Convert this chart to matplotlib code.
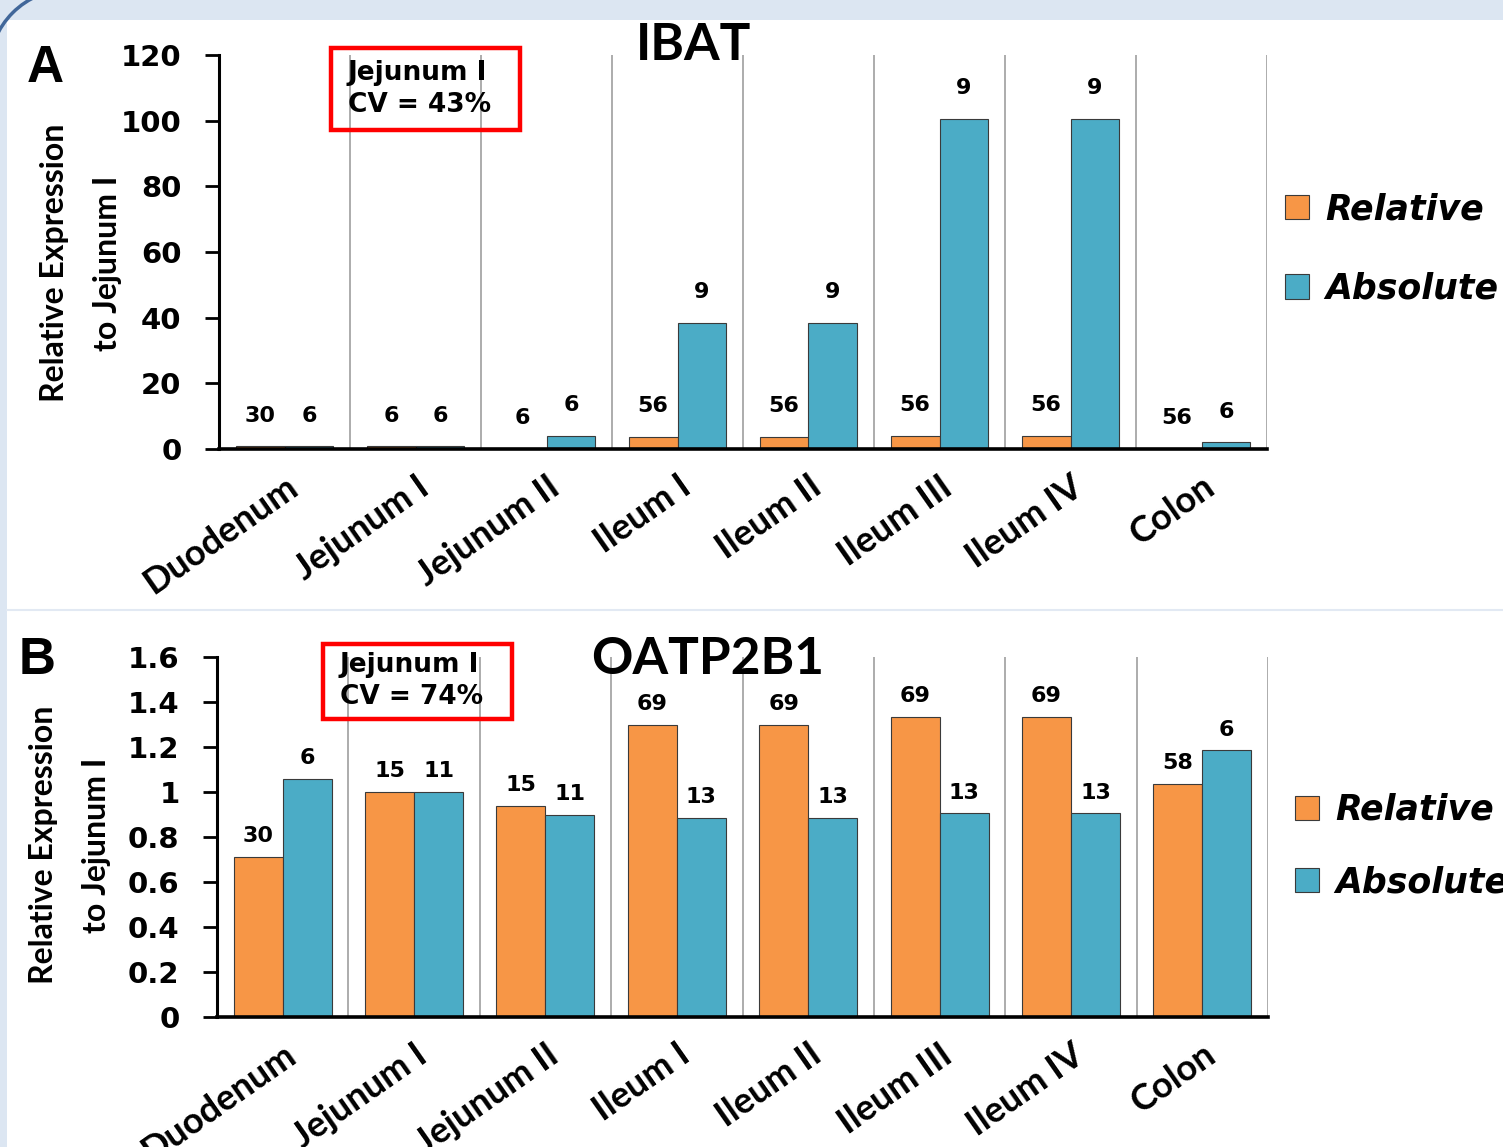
import matplotlib
matplotlib.use("Agg")
import matplotlib.pyplot as plt
from matplotlib import patches
import numpy as np

# ---- data ----
segments = ["Duodenum", "Jejunum I", "Jejunum II", "Ileum I",
            "Ileum II", "Ileum III", "Ileum IV", "Colon"]

ibat_relative = [0.8, 0.8, 0.0, 3.7, 3.7, 4.0, 4.0, 0.0]
ibat_absolute = [0.8, 0.8, 4.0, 38.4, 38.4, 100.5, 100.5, 2.1]
ibat_n_relative = [30, 6, 6, 56, 56, 56, 56, 56]
ibat_n_absolute = [6, 6, 6, 9, 9, 9, 9, 6]
ibat_yticks = [0, 20, 40, 60, 80, 100, 120]
ibat_yticklabels = ["0", "20", "40", "60", "80", "100", "120"]

oatp_relative = [0.71, 1.0, 0.94, 1.30, 1.30, 1.335, 1.335, 1.035]
oatp_absolute = [1.06, 1.0, 0.90, 0.885, 0.885, 0.905, 0.905, 1.185]
oatp_n_relative = [30, 15, 15, 69, 69, 69, 69, 58]
oatp_n_absolute = [6, 11, 11, 13, 13, 13, 13, 6]
oatp_yticks = [0, 0.2, 0.4, 0.6, 0.8, 1.0, 1.2, 1.4, 1.6]
oatp_yticklabels = ["0", "0.2", "0.4", "0.6", "0.8", "1", "1.2", "1.4", "1.6"]

ORANGE = "#F79646"
BLUE = "#4BACC6"
W, H = 1503, 1147
LATO = ["Lato", "DejaVu Sans"]


def fx(x):
    return x / W


def fy(y):
    return 1 - y / H


def panel(fig, rect, rel, ab, n_rel, n_ab, yticks, yticklabels, label_off):
    ax = fig.add_axes(rect)
    x = np.arange(len(segments))
    bw = 0.373
    for b in np.arange(len(segments) + 1) - 0.5:
        ax.axvline(b, color="#A6A6A6", lw=1.3, zorder=0)
    b1 = ax.bar(x - bw / 2, rel, bw, color=ORANGE, edgecolor="#3a3a3a",
                lw=0.8, label="Relative", zorder=2)
    b2 = ax.bar(x + bw / 2, ab, bw, color=BLUE, edgecolor="#3a3a3a",
                lw=0.8, label="Absolute", zorder=2)
    for xi, h, n in zip(x - bw / 2, rel, n_rel):
        ax.annotate(str(n), (xi, h), xytext=(0, label_off), textcoords="offset points",
                    ha="center", va="center", fontsize=16, fontweight="bold")
    for xi, h, n in zip(x + bw / 2, ab, n_ab):
        ax.annotate(str(n), (xi, h), xytext=(0, label_off), textcoords="offset points",
                    ha="center", va="center", fontsize=16, fontweight="bold")
    ax.set_xlim(-0.5, len(segments) - 0.5)
    ax.set_ylim(yticks[0], yticks[-1])
    ax.set_yticks(yticks)
    ax.set_yticklabels(yticklabels, fontsize=21, fontweight="bold")
    ax.set_xticks(x)
    ax.set_xticklabels(segments, rotation=35, ha="right", rotation_mode="anchor",
                       fontsize=26, fontweight="bold", family=LATO)
    ax.tick_params(axis="x", length=0, pad=15)
    ax.tick_params(axis="y", direction="out", length=10, width=2, pad=17)
    for s in ("top", "right"):
        ax.spines[s].set_visible(False)
    ax.spines["left"].set_linewidth(2.2)
    ax.spines["bottom"].set_linewidth(2.6)
    ax.set_facecolor("none")
    return ax, (b1, b2)


fig = plt.figure(figsize=(W / 100, H / 100), dpi=100)
fig.patch.set_facecolor("#DCE6F2")

# slide background: white panel, separator, rounded corner border
fig.patches.append(patches.Rectangle((fx(7), 0), 1, fy(20), transform=fig.transFigure,
                                     facecolor="white", edgecolor="none", zorder=-5))
fig.add_artist(plt.Line2D([fx(7), 1], [fy(610), fy(610)], transform=fig.transFigure,
                          color="#E2E9F3", lw=1.5))
fig.add_artist(patches.Arc((fx(70), fy(70)), 2 * 81 / W, 2 * 81 / H, theta1=90, theta2=180,
                           transform=fig.transFigure, color="#41679A", lw=2.5))

axA, hA = panel(fig, [fx(219), fy(449), fx(1267) - fx(219), fy(55) - fy(449)],
                ibat_relative, ibat_absolute, ibat_n_relative, ibat_n_absolute,
                ibat_yticks, ibat_yticklabels, 22)
axB, hB = panel(fig, [fx(217), fy(1017), fx(1268) - fx(217), fy(657) - fy(1017)],
                oatp_relative, oatp_absolute, oatp_n_relative, oatp_n_absolute,
                oatp_yticks, oatp_yticklabels, 15)

# titles and panel letters
fig.text(fx(694), fy(46), "IBAT", ha="center", va="center", fontsize=37,
         fontweight="bold", family=LATO)
fig.text(fx(708), fy(659), "OATP2B1", ha="center", va="center", fontsize=37,
         fontweight="bold", family=LATO)
fig.text(fx(45), fy(68), "A", ha="center", va="center", fontsize=37,
         fontweight="bold", family=["Liberation Sans", "DejaVu Sans"])
fig.text(fx(37), fy(660), "B", ha="center", va="center", fontsize=37,
         fontweight="bold", family=["Liberation Sans", "DejaVu Sans"])

# y labels
for xc, yc in ((81, 263), (70, 845)):
    fig.text(fx(xc), fy(yc), "Relative Expression\nto Jejunum I", rotation=90,
             ha="center", va="center", multialignment="center", linespacing=2.0,
             fontsize=23, fontweight="bold", family=LATO)

# CV boxes
for (x0, y0, x1, y1), txt in (((331, 48, 520, 130), "Jejunum I\nCV = 43%"),
                              ((323, 644, 512, 719), "Jejunum I\nCV = 74%")):
    fig.patches.append(patches.Rectangle((fx(x0), fy(y1)), fx(x1) - fx(x0), fy(y0) - fy(y1),
                                         transform=fig.transFigure, fill=False,
                                         edgecolor="#FF0000", lw=3.2, zorder=5))
    fig.text(fx(x0 + 17), fy((y0 + y1) / 2), txt, ha="left", va="center",
             fontsize=19, fontweight="bold", linespacing=1.3)

# legends
for ax, handles, yc, x0, sp in ((axA, hA, 249, 1285, 1.3), (axB, hB, 846, 1295, 1.1)):
    ax.legend(handles=handles, loc="center left", bbox_to_anchor=(fx(x0), fy(yc)),
              bbox_transform=fig.transFigure, frameon=False, borderpad=0, borderaxespad=0,
              handlelength=0.7, handleheight=0.7, handletextpad=0.45, labelspacing=sp,
              prop={"size": 25, "weight": "bold", "style": "italic"})

fig.savefig("out.png", dpi=100)
